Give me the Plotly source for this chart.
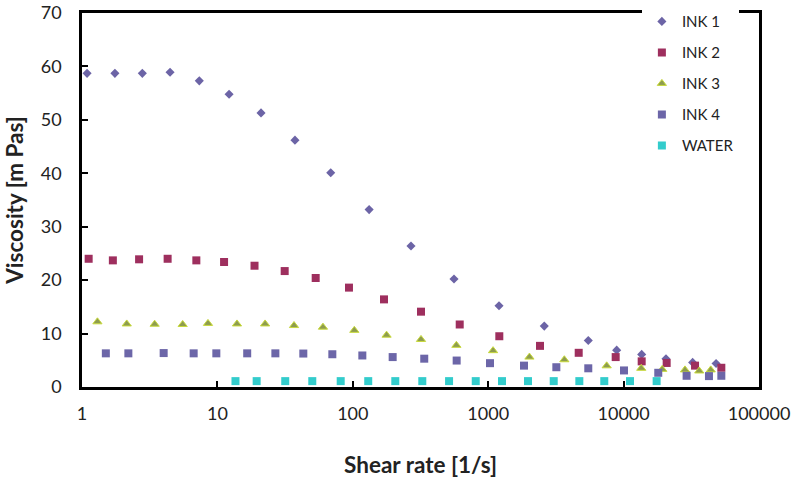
import plotly.graph_objects as go

# ---- data ----
ink1_x = [1.09, 1.75, 2.79, 4.47, 7.35, 12.2, 21.0, 37.4, 68.7, 132, 269, 559, 1202, 2595, 5485, 8890, 13600, 20560, 32350, 48200]
ink1_y = [58.7, 58.7, 58.7, 58.9, 57.3, 54.8, 51.3, 46.2, 40.1, 33.2, 26.4, 20.2, 15.2, 11.4, 8.7, 6.9, 6.1, 5.3, 4.6, 4.4]

ink2_x = [1.12, 1.69, 2.64, 4.29, 6.99, 11.2, 18.8, 31.4, 53.2, 93.7, 170, 319, 616, 1208, 2414, 4660, 8740, 13600, 20800, 33700, 52700]
ink2_y = [24.0, 23.7, 23.9, 24.0, 23.7, 23.4, 22.7, 21.7, 20.4, 18.6, 16.4, 14.1, 11.7, 9.5, 7.7, 6.4, 5.6, 4.8, 4.5, 4.0, 3.6]

ink3_x = [1.30, 2.14, 3.44, 5.54, 8.52, 13.95, 22.5, 36.8, 60.2, 102.6, 177.6, 319, 582, 1086, 2016, 3650, 7500, 13500, 19300, 28400, 36200, 44000]
ink3_y = [12.2, 11.8, 11.75, 11.7, 11.9, 11.8, 11.8, 11.5, 11.2, 10.6, 9.7, 8.9, 7.8, 6.8, 5.6, 5.1, 3.96, 3.5, 3.3, 3.2, 3.0, 3.2]

ink4_x = [1.50, 2.20, 4.01, 6.68, 9.82, 16.6, 26.8, 43.1, 70.6, 117.6, 197, 337, 585, 1031, 1838, 3186, 5485, 10070, 18030, 29200, 42700, 52700]
ink4_y = [6.3, 6.3, 6.35, 6.3, 6.3, 6.3, 6.3, 6.26, 6.13, 5.9, 5.6, 5.3, 4.95, 4.46, 4.0, 3.7, 3.5, 3.1, 2.66, 2.1, 2.04, 2.1]

water_x = [13.6, 19.5, 31.7, 50.2, 81.4, 130, 206, 326, 514, 809, 1265, 1967, 3047, 4710, 7200, 11150, 17540]
water_y = [1.1] * len(water_x)

series_names = ["INK 1", "INK 2", "INK 3", "INK 4", "WATER"]
x_tick_vals = [1, 10, 100, 1000, 10000, 100000]
x_tick_text = ["1", "10", "100", "1000", "10000", "100000"]
y_tick_vals = [0, 10, 20, 30, 40, 50, 60, 70]

FONT = "Lato, 'Open Sans', sans-serif"

fig = go.Figure()
styles = [
    dict(symbol="diamond", size=7, color="#6C64A6", line=dict(width=0)),
    dict(symbol="square", size=8, color="#9E2F5E", line=dict(width=0)),
    dict(symbol="triangle-up", size=8, color="#8E9C4F", line=dict(width=1, color="#C8DA3A")),
    dict(symbol="square", size=8, color="#6C66A8", line=dict(width=0)),
    dict(symbol="square", size=8, color="#33CCCC", line=dict(width=0)),
]
datasets = [(ink1_x, ink1_y), (ink2_x, ink2_y), (ink3_x, ink3_y), (ink4_x, ink4_y), (water_x, water_y)]
for name, (xs, ys), st in zip(series_names, datasets, styles):
    fig.add_trace(go.Scatter(x=xs, y=ys, mode="markers", name=name, legendgroup=name,
                             marker=st))

fig.update_layout(
    width=793, height=488,
    margin=dict(l=82, r=34, t=13, b=101, autoexpand=False),
    paper_bgcolor="white", plot_bgcolor="white",
    font=dict(family=FONT, color="#222222"),
    showlegend=True,
    legend=dict(x=0.827, xanchor="left", y=1.021, yanchor="top",
                bgcolor="white", borderwidth=0,
                font=dict(size=15, family=FONT, color="#222222"),
                tracegroupgap=8.5, itemwidth=30),
)
fig.update_xaxes(
    type="log", range=[0, 5], automargin=False, ticklabeloverflow="allow",
    tickvals=x_tick_vals, ticktext=x_tick_text,
    ticks="inside", ticklen=6, tickwidth=2, tickcolor="black",
    showline=True, linecolor="black", linewidth=2.5, mirror=True,
    showgrid=False, zeroline=False,
    tickfont=dict(size=18, family=FONT, color="#222222"),
    ticklabelstandoff=9,
    title=dict(text="<b>Shear rate [1/s]</b>", font=dict(size=22.5, family=FONT, color="#222222"), standoff=34),
)
fig.update_yaxes(
    range=[0, 70], tickvals=y_tick_vals, automargin=False, ticklabeloverflow="allow",
    ticks="inside", ticklen=6, tickwidth=2, tickcolor="black",
    showline=True, linecolor="black", linewidth=2.5, mirror=True,
    showgrid=False, zeroline=False,
    tickfont=dict(size=18, family=FONT, color="#222222"),
    ticklabelstandoff=14,
    title=dict(text="<b>Viscosity [m Pas]</b>", font=dict(size=22.5, family=FONT, color="#222222"), standoff=11),
)

fig.write_html("out.html")
